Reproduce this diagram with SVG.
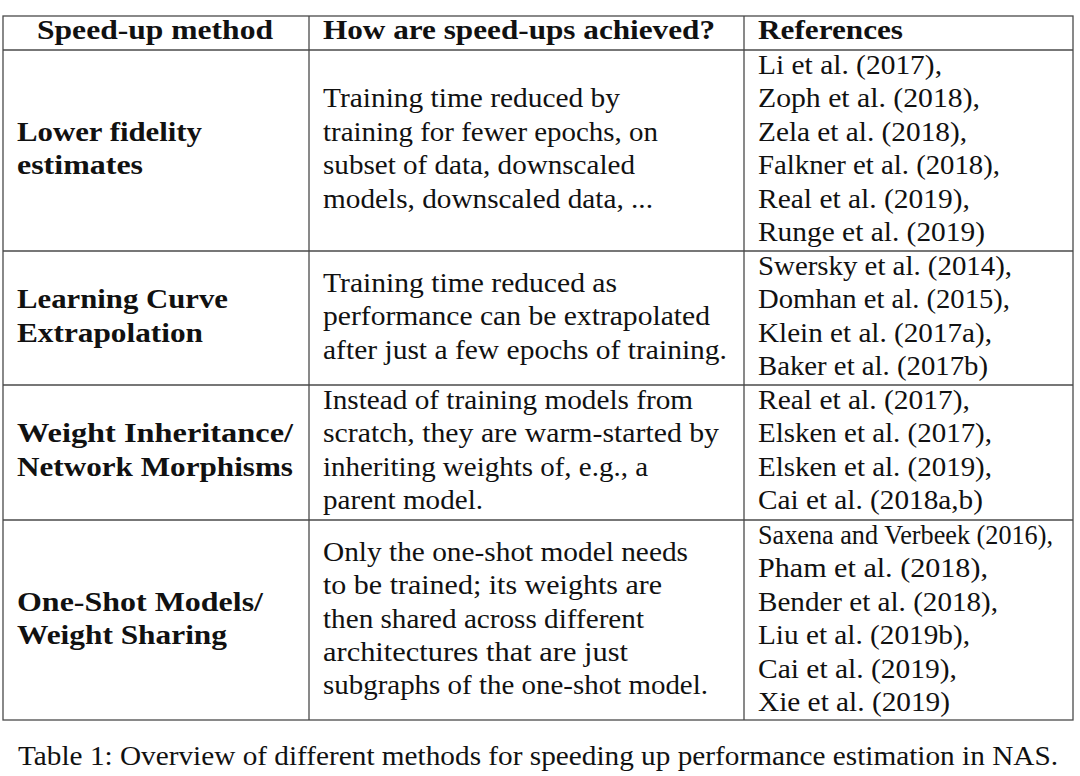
<svg xmlns="http://www.w3.org/2000/svg" width="1080" height="776" viewBox="0 0 1080 776">
<style>
text{font-family:"Liberation Serif","Times New Roman",serif;font-size:27.7px;fill:#111}
.b{font-weight:bold}
.g{stroke:#4a4a4a;stroke-width:1.3;fill:none}
</style>
<rect width="1080" height="776" fill="#fff"/>
<g id="grid">
<rect class="g" x="3" y="16" width="1070" height="704"/>
<line class="g" x1="3" y1="50" x2="1073" y2="50"/>
<line class="g" x1="3" y1="251" x2="1073" y2="251"/>
<line class="g" x1="3" y1="385" x2="1073" y2="385"/>
<line class="g" x1="3" y1="520" x2="1073" y2="520"/>
<line class="g" x1="309" y1="16" x2="309" y2="720"/>
<line class="g" x1="744" y1="16" x2="744" y2="720"/>
</g>
<g id="header">
<text class="b" x="155" y="39" text-anchor="middle" textLength="236" lengthAdjust="spacingAndGlyphs">Speed-up method</text>
<text class="b" x="323" y="39" textLength="392" lengthAdjust="spacingAndGlyphs">How are speed-ups achieved?</text>
<text class="b" x="758" y="39" textLength="145" lengthAdjust="spacingAndGlyphs">References</text>
</g>
<g id="row1">
<text class="b" x="17" y="140.8" textLength="185" lengthAdjust="spacingAndGlyphs">Lower fidelity</text>
<text class="b" x="17" y="174.2" textLength="126" lengthAdjust="spacingAndGlyphs">estimates</text>
<text x="323" y="107.4" textLength="297" lengthAdjust="spacingAndGlyphs">Training time reduced by</text>
<text x="323" y="140.8" textLength="335" lengthAdjust="spacingAndGlyphs">training for fewer epochs, on</text>
<text x="323" y="174.2" textLength="312" lengthAdjust="spacingAndGlyphs">subset of data, downscaled</text>
<text x="323" y="207.6" textLength="330" lengthAdjust="spacingAndGlyphs">models, downscaled data, ...</text>
<text x="758" y="74" textLength="184" lengthAdjust="spacingAndGlyphs">Li et al. (2017),</text>
<text x="758" y="107.4" textLength="222" lengthAdjust="spacingAndGlyphs">Zoph et al. (2018),</text>
<text x="758" y="140.8" textLength="209" lengthAdjust="spacingAndGlyphs">Zela et al. (2018),</text>
<text x="758" y="174.2" textLength="242" lengthAdjust="spacingAndGlyphs">Falkner et al. (2018),</text>
<text x="758" y="207.6" textLength="212" lengthAdjust="spacingAndGlyphs">Real et al. (2019),</text>
<text x="758" y="241" textLength="227" lengthAdjust="spacingAndGlyphs">Runge et al. (2019)</text>
</g>
<g id="row2">
<text class="b" x="17" y="308.4" textLength="211" lengthAdjust="spacingAndGlyphs">Learning Curve</text>
<text class="b" x="17" y="341.8" textLength="186" lengthAdjust="spacingAndGlyphs">Extrapolation</text>
<text x="323" y="291.7" textLength="294" lengthAdjust="spacingAndGlyphs">Training time reduced as</text>
<text x="323" y="325.1" textLength="387" lengthAdjust="spacingAndGlyphs">performance can be extrapolated</text>
<text x="323" y="358.5" textLength="404" lengthAdjust="spacingAndGlyphs">after just a few epochs of training.</text>
<text x="758" y="275" textLength="254" lengthAdjust="spacingAndGlyphs">Swersky et al. (2014),</text>
<text x="758" y="308.4" textLength="252" lengthAdjust="spacingAndGlyphs">Domhan et al. (2015),</text>
<text x="758" y="341.8" textLength="234" lengthAdjust="spacingAndGlyphs">Klein et al. (2017a),</text>
<text x="758" y="375.2" textLength="230" lengthAdjust="spacingAndGlyphs">Baker et al. (2017b)</text>
</g>
<g id="row3">
<text class="b" x="17" y="442.4" textLength="276" lengthAdjust="spacingAndGlyphs">Weight Inheritance/</text>
<text class="b" x="17" y="475.8" textLength="276" lengthAdjust="spacingAndGlyphs">Network Morphisms</text>
<text x="323" y="409" textLength="370" lengthAdjust="spacingAndGlyphs">Instead of training models from</text>
<text x="323" y="442.4" textLength="396" lengthAdjust="spacingAndGlyphs">scratch, they are warm-started by</text>
<text x="323" y="475.8" textLength="325" lengthAdjust="spacingAndGlyphs">inheriting weights of, e.g., a</text>
<text x="323" y="509.2" textLength="160" lengthAdjust="spacingAndGlyphs">parent model.</text>
<text x="758" y="409" textLength="212" lengthAdjust="spacingAndGlyphs">Real et al. (2017),</text>
<text x="758" y="442.4" textLength="234" lengthAdjust="spacingAndGlyphs">Elsken et al. (2017),</text>
<text x="758" y="475.8" textLength="234" lengthAdjust="spacingAndGlyphs">Elsken et al. (2019),</text>
<text x="758" y="509.2" textLength="225" lengthAdjust="spacingAndGlyphs">Cai et al. (2018a,b)</text>
</g>
<g id="row4">
<text class="b" x="17" y="610.8" textLength="246" lengthAdjust="spacingAndGlyphs">One-Shot Models/</text>
<text class="b" x="17" y="644.2" textLength="210" lengthAdjust="spacingAndGlyphs">Weight Sharing</text>
<text x="323" y="560.7" textLength="365" lengthAdjust="spacingAndGlyphs">Only the one-shot model needs</text>
<text x="323" y="594.1" textLength="339" lengthAdjust="spacingAndGlyphs">to be trained; its weights are</text>
<text x="323" y="627.5" textLength="321" lengthAdjust="spacingAndGlyphs">then shared across different</text>
<text x="323" y="660.9" textLength="305" lengthAdjust="spacingAndGlyphs">architectures that are just</text>
<text x="323" y="694.3" textLength="385" lengthAdjust="spacingAndGlyphs">subgraphs of the one-shot model.</text>
<text x="758" y="544" textLength="295" lengthAdjust="spacingAndGlyphs">Saxena and Verbeek (2016),</text>
<text x="758" y="577.4" textLength="230" lengthAdjust="spacingAndGlyphs">Pham et al. (2018),</text>
<text x="758" y="610.8" textLength="240" lengthAdjust="spacingAndGlyphs">Bender et al. (2018),</text>
<text x="758" y="644.2" textLength="212" lengthAdjust="spacingAndGlyphs">Liu et al. (2019b),</text>
<text x="758" y="677.6" textLength="199" lengthAdjust="spacingAndGlyphs">Cai et al. (2019),</text>
<text x="758" y="711" textLength="192" lengthAdjust="spacingAndGlyphs">Xie et al. (2019)</text>
</g>
<g id="caption">
<text x="18" y="765" textLength="1040" lengthAdjust="spacingAndGlyphs">Table 1: Overview of different methods for speeding up performance estimation in NAS.</text>
</g>
</svg>
